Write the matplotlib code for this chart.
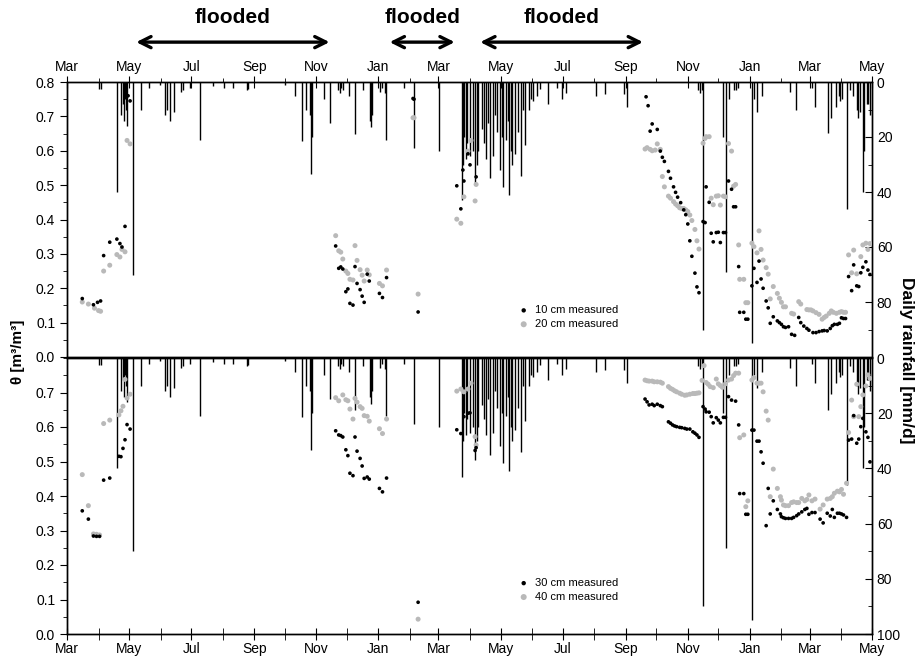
import numpy as np
import pandas as pd
import matplotlib
matplotlib.use("Agg")
import matplotlib.pyplot as plt
import matplotlib.dates as mdates
from matplotlib.ticker import MultipleLocator, FixedLocator

plt.rcParams['font.family'] = ['Liberation Sans', 'DejaVu Sans']

start = pd.Timestamp('2009-03-01')

# days after start, soil moisture [m3/m3]
d10 = [15, 26, 30, 33, 36, 42, 49, 52, 54, 57, 60, 62, 264, 267, 269, 271, 274, 276, 278, 281, 283, 285,
       288, 290, 292, 295, 297, 307, 310, 314, 340, 341, 345, 383, 387, 389, 390, 394, 396, 402, 569, 571,
       573, 575, 580, 583, 585, 587, 591, 593, 596, 598, 600, 603, 606, 608, 610, 612, 614, 617, 619, 621,
       625, 627, 628, 631, 633, 635, 638, 640, 642, 645, 647, 650, 653, 655, 657, 660, 661, 665, 667, 669,
       673, 675, 678, 680, 682, 684, 687, 689, 691, 694, 698, 700, 702, 704, 706, 709, 712, 715, 719, 721,
       724, 727, 729, 733, 736, 739, 742, 744, 747, 750, 752, 754, 757, 759, 761, 763, 765, 768, 771, 773,
       776, 778, 780, 782, 785, 787, 789]
v10 = [0.17, 0.152, 0.159, 0.163, 0.295, 0.334, 0.343, 0.33, 0.32, 0.38, 0.76, 0.745, 0.323, 0.258, 0.262,
       0.256, 0.19, 0.198, 0.156, 0.151, 0.263, 0.214, 0.196, 0.177, 0.159, 0.241, 0.221, 0.185, 0.173, 0.231,
       0.752, 0.75, 0.131, 0.498, 0.431, 0.544, 0.512, 0.591, 0.559, 0.524, 0.757, 0.731, 0.657, 0.678, 0.662,
       0.599, 0.581, 0.569, 0.54, 0.52, 0.495, 0.479, 0.465, 0.449, 0.428, 0.414, 0.387, 0.338, 0.293, 0.244,
       0.204, 0.187, 0.394, 0.391, 0.495, 0.45, 0.36, 0.335, 0.362, 0.363, 0.333, 0.362, 0.362, 0.512, 0.488,
       0.437, 0.437, 0.263, 0.13, 0.13, 0.11, 0.11, 0.207, 0.258, 0.217, 0.279, 0.227, 0.2, 0.163, 0.143,
       0.098, 0.117, 0.105, 0.1, 0.095, 0.088, 0.086, 0.088, 0.066, 0.063, 0.115, 0.1, 0.09, 0.083, 0.078,
       0.071, 0.071, 0.074, 0.076, 0.077, 0.076, 0.083, 0.091, 0.095, 0.095, 0.098, 0.114, 0.112, 0.112,
       0.234, 0.193, 0.268, 0.207, 0.205, 0.245, 0.261, 0.277, 0.253, 0.24]

d20 = [15, 21, 27, 31, 33, 36, 42, 49, 52, 54, 57, 59, 62, 264, 267, 269, 271, 274, 276, 278, 281, 283, 285,
       288, 290, 292, 295, 297, 307, 310, 314, 340, 341, 345, 383, 387, 390, 394, 397, 401, 402, 568, 570,
       573, 575, 578, 580, 583, 585, 587, 591, 593, 596, 598, 600, 602, 604, 606, 608, 610, 612, 614, 617,
       619, 621, 625, 627, 628, 631, 633, 635, 638, 640, 642, 645, 647, 650, 653, 655, 657, 660, 661, 665,
       667, 669, 673, 675, 678, 680, 682, 684, 687, 689, 691, 694, 698, 700, 702, 704, 706, 712, 714, 719,
       721, 727, 729, 731, 733, 736, 739, 742, 744, 746, 749, 751, 753, 756, 759, 761, 763, 765, 768, 771,
       773, 776, 780, 782, 785, 787, 789]
v20 = [0.16, 0.154, 0.142, 0.135, 0.133, 0.25, 0.267, 0.298, 0.291, 0.313, 0.306, 0.63, 0.62, 0.353, 0.309,
       0.305, 0.285, 0.25, 0.243, 0.226, 0.224, 0.324, 0.281, 0.254, 0.238, 0.221, 0.253, 0.239, 0.214, 0.207,
       0.253, 0.696, 0.696, 0.183, 0.401, 0.389, 0.466, 0.599, 0.63, 0.454, 0.502, 0.605, 0.609, 0.604, 0.6,
       0.602, 0.62, 0.604, 0.525, 0.495, 0.468, 0.462, 0.452, 0.445, 0.44, 0.434, 0.432, 0.432, 0.428, 0.423,
       0.413, 0.397, 0.371, 0.338, 0.314, 0.622, 0.636, 0.641, 0.641, 0.462, 0.443, 0.468, 0.469, 0.442,
       0.468, 0.466, 0.621, 0.599, 0.497, 0.502, 0.326, 0.226, 0.226, 0.158, 0.158, 0.331, 0.321, 0.303,
       0.367, 0.313, 0.282, 0.26, 0.241, 0.169, 0.205, 0.185, 0.171, 0.159, 0.146, 0.146, 0.127, 0.125,
       0.161, 0.154, 0.138, 0.137, 0.137, 0.134, 0.129, 0.124, 0.11, 0.115, 0.119, 0.127, 0.134, 0.13, 0.127,
       0.13, 0.132, 0.13, 0.13, 0.297, 0.245, 0.311, 0.242, 0.292, 0.326, 0.331, 0.313, 0.33]

d30 = [15, 21, 26, 29, 32, 36, 42, 51, 53, 55, 57, 59, 62, 264, 267, 269, 271, 274, 276, 278, 281, 283, 285,
       288, 290, 292, 295, 297, 307, 310, 314, 345, 383, 387, 390, 394, 396, 401, 402, 568, 570, 572, 575,
       577, 580, 583, 585, 591, 593, 595, 597, 599, 602, 604, 607, 609, 612, 615, 617, 619, 621, 625, 627,
       628, 631, 633, 635, 638, 640, 642, 645, 647, 650, 653, 657, 660, 661, 665, 667, 669, 673, 675, 678,
       680, 682, 684, 687, 689, 691, 694, 698, 701, 702, 704, 706, 709, 712, 714, 717, 719, 722, 725, 727,
       729, 732, 735, 740, 743, 747, 750, 752, 754, 757, 759, 761, 763, 766, 768, 771, 773, 776, 778, 780,
       782, 785, 787, 789]
v30 = [0.357, 0.333, 0.284, 0.283, 0.283, 0.446, 0.452, 0.515, 0.514, 0.538, 0.563, 0.607, 0.594, 0.589,
       0.577, 0.575, 0.571, 0.534, 0.517, 0.466, 0.459, 0.571, 0.53, 0.509, 0.487, 0.451, 0.455, 0.449, 0.422,
       0.412, 0.452, 0.092, 0.592, 0.581, 0.63, 0.64, 0.641, 0.532, 0.54, 0.681, 0.673, 0.664, 0.666, 0.662,
       0.666, 0.662, 0.659, 0.615, 0.611, 0.606, 0.603, 0.601, 0.599, 0.598, 0.596, 0.594, 0.594, 0.586,
       0.582, 0.577, 0.57, 0.659, 0.652, 0.644, 0.643, 0.63, 0.612, 0.627, 0.62, 0.612, 0.628, 0.628, 0.688,
       0.678, 0.675, 0.606, 0.407, 0.407, 0.347, 0.347, 0.591, 0.591, 0.559, 0.559, 0.528, 0.495, 0.314,
       0.422, 0.348, 0.386, 0.361, 0.348, 0.34, 0.337, 0.335, 0.335, 0.335, 0.338, 0.343, 0.348, 0.354, 0.361,
       0.364, 0.347, 0.352, 0.352, 0.333, 0.322, 0.35, 0.342, 0.361, 0.338, 0.35, 0.35, 0.348, 0.345, 0.338,
       0.562, 0.565, 0.633, 0.553, 0.565, 0.601, 0.625, 0.586, 0.57, 0.499]

d40 = [15, 21, 26, 29, 32, 36, 42, 51, 53, 55, 57, 59, 62, 264, 267, 271, 274, 276, 278, 281, 283, 285, 288,
       290, 292, 295, 297, 307, 310, 314, 345, 383, 387, 390, 394, 397, 401, 402, 568, 570, 572, 575, 577,
       580, 583, 585, 591, 593, 595, 597, 599, 602, 604, 607, 609, 612, 615, 617, 619, 621, 624, 626, 628,
       630, 632, 635, 638, 640, 642, 644, 647, 650, 653, 655, 657, 660, 661, 665, 667, 669, 673, 675, 678,
       680, 682, 684, 687, 689, 691, 694, 698, 701, 702, 704, 706, 709, 712, 714, 717, 719, 722, 725, 727,
       729, 732, 735, 740, 743, 747, 750, 752, 754, 757, 759, 761, 763, 766, 768, 771, 773, 776, 778, 780,
       782, 785, 787, 789]
v40 = [0.462, 0.372, 0.29, 0.289, 0.287, 0.61, 0.62, 0.635, 0.647, 0.66, 0.738, 0.684, 0.695, 0.685, 0.676,
       0.693, 0.679, 0.676, 0.652, 0.623, 0.683, 0.672, 0.659, 0.654, 0.633, 0.631, 0.617, 0.595, 0.581,
       0.623, 0.043, 0.704, 0.71, 0.702, 0.71, 0.727, 0.572, 0.548, 0.736, 0.734, 0.733, 0.733, 0.731, 0.731,
       0.73, 0.727, 0.717, 0.712, 0.709, 0.705, 0.702, 0.698, 0.695, 0.692, 0.693, 0.695, 0.697, 0.697, 0.698,
       0.699, 0.735, 0.778, 0.729, 0.724, 0.717, 0.714, 0.739, 0.725, 0.72, 0.715, 0.725, 0.736, 0.739, 0.749,
       0.756, 0.756, 0.569, 0.577, 0.369, 0.386, 0.736, 0.743, 0.727, 0.727, 0.727, 0.702, 0.646, 0.62, 0.398,
       0.478, 0.422, 0.398, 0.388, 0.374, 0.372, 0.372, 0.381, 0.383, 0.381, 0.381, 0.393, 0.386, 0.39, 0.403,
       0.386, 0.391, 0.362, 0.374, 0.391, 0.393, 0.398, 0.408, 0.414, 0.412, 0.419, 0.405, 0.437, 0.584,
       0.678, 0.63, 0.724, 0.63, 0.659, 0.693, 0.719, 0.751, 0.741]

# daily rainfall [mm/d]
rain_day = [31, 33, 49, 53, 55, 56, 57, 58, 59, 65, 73, 81, 91, 96, 98, 101, 105, 112, 114, 121, 131, 143,
            154, 163, 177, 178, 214, 224, 231, 235, 239, 240, 241, 253, 258, 266, 268, 269, 271, 277, 283,
            291, 298, 299, 300, 308, 310, 312, 313, 331, 341, 366, 388, 389, 390, 392, 393, 396, 399, 401,
            403, 404, 408, 410, 412, 414, 416, 419, 421, 423, 425, 427, 428, 431, 433, 434, 436, 437, 440,
            443, 446, 448, 450, 454, 456, 458, 462, 465, 473, 481, 486, 490, 520, 529, 547, 550, 620, 622,
            624, 625, 645, 648, 650, 655, 657, 659, 673, 675, 678, 683, 710, 716, 732, 735, 748, 751, 756,
            759, 760, 762, 766, 769, 772, 776, 777, 779, 782, 783, 786, 787, 789]
rain_mm = [2.5, 2.5, 40, 12, 8, 14, 6, 10, 16, 70, 10, 2, 1, 12, 10, 14, 11, 3.5, 3, 2, 21, 1.5, 2, 2, 3,
           2.5, 1, 5, 21.5, 10, 12, 33.5, 20, 6, 15, 3, 4, 2, 3, 5, 19, 3, 14, 16.5, 12, 3.5, 2, 4, 21, 2,
           24, 25, 43, 30, 20, 28, 22, 27, 25, 37, 30, 25, 17, 22, 28, 15, 35, 27, 12, 18, 32, 20, 38, 21,
           14, 41, 25, 30, 26, 18, 34, 10, 23, 10, 6, 7, 5, 2.5, 8, 2, 6, 4, 5, 4.5, 4.5, 9, 3, 4, 3, 90,
           20, 69, 6, 3, 3, 2, 95, 6, 11, 5, 3.6, 10, 2, 9, 18.7, 13, 9, 5, 7, 6, 46, 3, 5, 10, 13, 11, 40,
           25, 8, 8, 12]

flood_starts = ['2009-05-08', '2010-01-12', '2010-04-11']
flood_ends = ['2009-11-14', '2010-03-17', '2010-09-18']


def to_dates(days):
    return start + pd.to_timedelta(days, unit='D')


black = 'black'
grey = '#b9b9b9'

fig = plt.figure(figsize=(9.2, 6.63), dpi=100)
ax1 = fig.add_axes([67 / 920, 1 - 357 / 663, 805 / 920, 275 / 663])
ax2 = fig.add_axes([67 / 920, 1 - 634 / 663, 805 / 920, 276 / 663])

panels = [(ax1, d10, v10, d20, v20, '10 cm measured', '20 cm measured'),
          (ax2, d30, v30, d40, v40, '30 cm measured', '40 cm measured')]

for ax, da, va, db, vb, la, lb in panels:
    axr = ax.twinx()
    axr.vlines(to_dates(rain_day), 0, rain_mm, color='black', lw=1.0)
    axr.set_ylim(100, 0)
    ax.set_zorder(axr.get_zorder() + 1)
    ax.patch.set_visible(False)
    hb = ax.scatter(to_dates(db), vb, s=13, color=grey, edgecolors='none', label=lb, zorder=3)
    ha = ax.scatter(to_dates(da), va, s=7, color=black, edgecolors='none', label=la, zorder=4)
    ax.set_ylim(0, 0.8)
    ax.set_xlim(start, pd.Timestamp('2011-05-01'))
    ax.yaxis.set_minor_locator(MultipleLocator(0.05))
    ax.tick_params(axis='y', which='major', direction='out', length=5, labelsize=10)
    ax.tick_params(axis='y', which='minor', direction='out', length=3)
    axr.yaxis.set_minor_locator(MultipleLocator(10))
    axr.tick_params(axis='y', which='major', direction='in', length=5, labelsize=10)
    axr.tick_params(axis='y', which='minor', direction='in', length=3)
    ax.xaxis.set_major_locator(mdates.MonthLocator(bymonth=[1, 3, 5, 7, 9, 11]))
    ax.xaxis.set_minor_locator(mdates.MonthLocator(bymonth=[2, 4, 6, 8, 10, 12]))
    ax.xaxis.set_major_formatter(mdates.DateFormatter('%b'))
    for a in (ax, axr):
        for s in a.spines.values():
            s.set_linewidth(1.0)
    leg_y = 0.085 if ax is ax1 else 0.1
    ax.legend(handles=[ha, hb], loc='lower left', bbox_to_anchor=(0.548, leg_y), frameon=False,
              fontsize=8, handletextpad=0.0, borderaxespad=0, labelspacing=0.35, markerscale=1.2)
    if ax is ax1:
        axr.yaxis.set_major_locator(FixedLocator([0, 20, 40, 60, 80]))
    else:
        axr.yaxis.set_major_locator(FixedLocator([0, 20, 40, 60, 80, 100]))

ax1.yaxis.set_major_locator(FixedLocator(np.round(np.arange(0, 0.81, 0.1), 1)))
ax2.yaxis.set_major_locator(FixedLocator(np.round(np.arange(0, 0.71, 0.1), 1)))
ax1.yaxis.set_major_formatter(plt.FormatStrFormatter('%.1f'))
ax2.yaxis.set_major_formatter(plt.FormatStrFormatter('%.1f'))

ax1.xaxis.tick_top()
ax1.tick_params(axis='x', which='major', direction='inout', length=8, labelsize=10, pad=2)
ax1.tick_params(axis='x', which='minor', direction='out', length=3)
ax2.tick_params(axis='x', which='both', direction='inout', length=8, labelsize=10, pad=2)

for s, e in zip(flood_starts, flood_ends):
    s, e = pd.Timestamp(s), pd.Timestamp(e)
    ax1.annotate('', xy=(e, 1.145), xytext=(s, 1.145), xycoords=('data', 'axes fraction'),
                 textcoords=('data', 'axes fraction'),
                 arrowprops=dict(arrowstyle='<->,head_length=0.8,head_width=0.4', lw=2.4,
                                 color='black', shrinkA=0, shrinkB=0), annotation_clip=False)
    ax1.text(s + (e - s) / 2, 1.235, 'flooded', transform=ax1.get_xaxis_transform(),
             ha='center', va='center', fontsize=15, fontweight='bold')

fig.text(0.02, 1 - 352 / 663, 'θ [m³/m³]', rotation=90, ha='center', va='center',
         fontsize=11, fontweight='bold')
fig.text(0.985, 1 - 360 / 663, 'Daily rainfall [mm/d]', rotation=270, ha='center', va='center',
         fontsize=12.5, fontweight='bold')

fig.savefig('out.png', dpi=100)
